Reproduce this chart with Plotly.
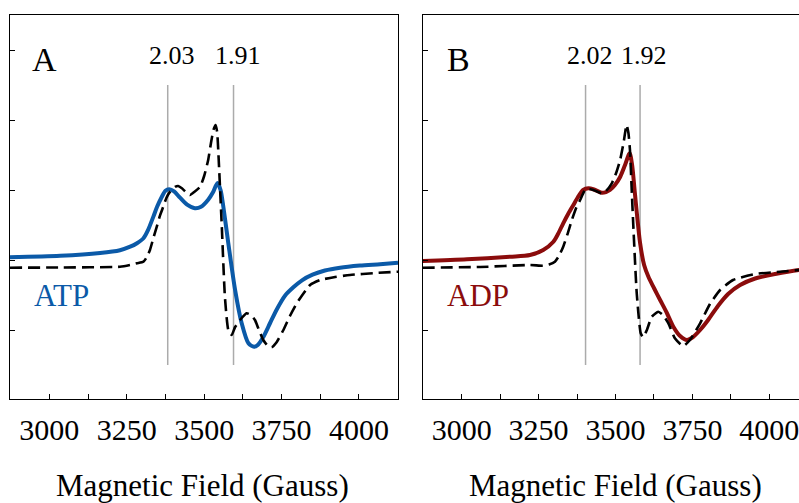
import plotly.graph_objects as go

# ---------------- data ----------------
# Panel A: ATP-bound sample (solid) and reference spectrum (dashed)
field_atp = [2873, 3035, 3164, 3228, 3261, 3283, 3304, 3319, 3336, 3348, 3363, 3375,
             3387, 3403, 3422, 3445, 3470, 3490, 3513, 3529, 3543, 3553, 3562, 3578,
             3600, 3621, 3643, 3661, 3674, 3691, 3713, 3734, 3761, 3788, 3816, 3850,
             3890, 3939, 4003, 4068, 4126]
signal_atp = [0.4, 0.6, 1.0, 1.4, 1.9, 2.4, 3.1, 4.3, 6.2, 7.6, 9.0, 9.9,
              10.1, 9.8, 8.9, 7.9, 7.4, 7.6, 8.6, 9.7, 11.0, 10.0, 7.6, 2.4,
              -4.3, -9.0, -11.9, -12.4, -12.1, -11.0, -9.0, -7.1, -5.1, -3.9, -2.9, -2.1,
              -1.5, -1.1, -0.8, -0.6, -0.4]

field_ref_a = [2873, 3035, 3228, 3261, 3283, 3304, 3315, 3325, 3336, 3347, 3357, 3368,
               3378, 3390, 3406, 3416, 3428, 3441, 3454, 3470, 3487, 3500, 3513, 3522,
               3530, 3537, 3542, 3546, 3557, 3567, 3578, 3589, 3600, 3616, 3637, 3651,
               3664, 3677, 3691, 3703, 3718, 3732, 3756, 3777, 3799, 3842, 3874, 3923,
               3971, 4052, 4126]
signal_ref_a = [-1.1, -1.07, -0.96, -0.71, -0.47, -0.24, 0.43, 1.43, 3.14, 4.76, 6.29, 7.61,
                8.86, 9.76, 10.43, 10.57, 10.24, 9.71, 9.29, 9.79, 10.47, 12.0, 14.29, 16.71,
                18.57, 19.29, 18.29, 15.24, 4.76, -5.24, -10.0, -10.71, -9.57, -8.57, -7.61, -7.86,
                -8.57, -10.0, -11.43, -12.14, -12.47, -11.86, -10.0, -8.0, -6.19, -3.57, -2.86, -2.43,
                -2.14, -1.86, -1.67]

# Panel B: ADP-bound sample (solid) and reference spectrum (dashed)
field_adp = [2873, 3017, 3157, 3222, 3265, 3298, 3313, 3330, 3346, 3363, 3378, 3395,
             3412, 3430, 3455, 3469, 3482, 3498, 3515, 3531, 3546, 3554, 3563, 3580,
             3593, 3607, 3625, 3645, 3667, 3688, 3710, 3732, 3752, 3775, 3801, 3833,
             3866, 3905, 3954, 4019, 4097, 4130]
signal_adp = [-0.14, 0.1, 0.47, 0.71, 1.43, 2.61, 3.71, 5.24, 6.57, 7.86, 9.0, 10.0,
              10.24, 10.07, 9.61, 9.71, 10.0, 10.71, 11.86, 13.57, 15.24, 13.57, 9.53, 2.39,
              -0.71, -2.39, -4.0, -5.71, -7.57, -9.53, -10.86, -11.43, -11.0, -10.0, -8.57, -6.57,
              -4.86, -3.57, -2.64, -2.0, -1.43, -1.3]

field_ref_b = [2873, 3060, 3222, 3265, 3284, 3303, 3316, 3330, 3344, 3358, 3372, 3385,
               3401, 3414, 3428, 3440, 3455, 3469, 3488, 3502, 3515, 3526, 3536, 3542,
               3547, 3552, 3558, 3569, 3582, 3590, 3602, 3618, 3639, 3654, 3672, 3693,
               3720, 3742, 3775, 3807, 3840, 3882, 3954, 4035, 4097, 4130]
signal_ref_b = [-1.1, -1.0, -0.71, -0.81, -0.64, -0.24, 0.57, 1.9, 3.71, 5.71, 7.43, 8.57,
                10.0, 10.14, 10.0, 9.79, 9.53, 9.86, 10.96, 12.43, 14.29, 16.71, 19.29, 18.14,
                15.71, 10.71, 4.76, -4.76, -10.47, -11.04, -10.0, -8.1, -7.39, -7.86, -9.04, -11.19,
                -12.29, -11.43, -9.04, -6.29, -4.29, -2.86, -2.0, -1.67, -1.43, -1.35]

# g-values marked on each panel and the microwave frequency of each measurement
g_values_a = [2.03, 1.91]
g_values_b = [2.02, 1.92]
mw_freq_ghz = [9.61, 9.62]

panel_letters = ["A", "B"]
sample_labels = ["ATP", "ADP"]
major_fields = [3000, 3250, 3500, 3750, 4000]
y_ticks = [-10, 0, 10, 20, 30]
x_title = "Magnetic Field (Gauss)"

# ---------------- styling ----------------
BLUE = "#0B5AA8"
RED = "#8B0C0C"
FONT = "Liberation Serif"
W, H = 799, 503
M_T, M_B = 15, 104


def g_to_field(g, freq_ghz):
    # resonance field in gauss: B = h*nu / (g * muB)
    return 714.48 * freq_ghz / g


fig = go.Figure()

fig.add_trace(go.Scatter(x=field_atp, y=signal_atp, mode="lines", xaxis="x", yaxis="y",
                         line=dict(color=BLUE, width=4, shape="spline", smoothing=0.75),
                         showlegend=False))
fig.add_trace(go.Scatter(x=field_ref_a, y=signal_ref_a, mode="lines", xaxis="x", yaxis="y",
                         line=dict(color="black", width=2.6, dash="12px,6px",
                                   shape="spline", smoothing=0.5),
                         showlegend=False))
fig.add_trace(go.Scatter(x=field_adp, y=signal_adp, mode="lines", xaxis="x2", yaxis="y2",
                         line=dict(color=RED, width=4, shape="spline", smoothing=0.75),
                         showlegend=False))
fig.add_trace(go.Scatter(x=field_ref_b, y=signal_ref_b, mode="lines", xaxis="x2", yaxis="y2",
                         line=dict(color="black", width=2.6, dash="12px,6px",
                                   shape="spline", smoothing=0.5),
                         showlegend=False))

fig.update_layout(
    width=W, height=H,
    margin=dict(l=0, r=0, t=M_T, b=M_B),
    paper_bgcolor="white", plot_bgcolor="white",
    font=dict(family=FONT, size=30, color="black"),
    xaxis=dict(domain=[10 / W, 398 / W], range=[2873, 4126], anchor="y"),
    yaxis=dict(domain=[0, 1], anchor="x", mirror=True),
    xaxis2=dict(domain=[422.7 / W, 1.0], range=[2873.2, 4096.5], anchor="y2"),
    yaxis2=dict(domain=[0, 1], anchor="x2", mirror=False),
)

# shared axis styling: black frame, short inside ticks, labelled every 250 G
fig.update_xaxes(showgrid=False, zeroline=False, showline=True, linecolor="black",
                 linewidth=1.3, mirror=True, ticks="inside", ticklen=5, tickcolor="black",
                 tickwidth=1, tickmode="array", tickvals=major_fields,
                 ticktext=[str(v) for v in major_fields], tickangle=0,
                 tickfont=dict(family=FONT, size=30, color="black"),
                 minor=dict(ticks="inside", ticklen=5, tickcolor="black", tickwidth=1,
                            dtick=125, tick0=3000, showgrid=False),
                 ticklabeloverflow="allow", ticklabelstandoff=4)
fig.update_yaxes(showgrid=False, zeroline=False, showline=True, linecolor="black",
                 linewidth=1.3, ticks="inside", ticklen=5, tickcolor="black", tickwidth=1,
                 tickmode="array", tickvals=y_ticks, showticklabels=False,
                 range=[(260 - 399) / 7, (260 - 15) / 7])

shapes = []
annotations = []
panels = [("x", "y", g_values_a, mw_freq_ghz[0]), ("x2", "y2", g_values_b, mw_freq_ghz[1])]
for (xr, yr, gvals, freq) in panels:
    for g in gvals:
        bf = g_to_field(g, freq)
        shapes.append(dict(type="line", xref=xr, yref=yr, x0=bf, x1=bf, y0=-15, y1=25,
                           line=dict(color="#ABABAB", width=1.5), layer="below"))
        annotations.append(dict(xref=xr, yref=yr, x=bf, y=29.2, xshift=4, text=f"{g:.2f}",
                                showarrow=False, xanchor="center", yanchor="middle",
                                font=dict(family=FONT, size=26, color="black")))

# panel letters, sample labels and axis titles
letter_pos = [(44, 59), (458, 59)]
label_pos = [(61, 295, BLUE), (478, 295, RED)]
title_x = [202, 615]
for i in range(2):
    lx, ly = letter_pos[i]
    annotations.append(dict(xref="paper", yref="paper", x=lx / W, y=(399 - ly) / 384,
                            text=panel_letters[i], showarrow=False, xanchor="center",
                            yanchor="middle", font=dict(family=FONT, size=34, color="black")))
    sx, sy, col = label_pos[i]
    annotations.append(dict(xref="paper", yref="paper", x=sx / W, y=(399 - sy) / 384,
                            text=sample_labels[i], showarrow=False, xanchor="center",
                            yanchor="middle", font=dict(family=FONT, size=31, color=col)))
    annotations.append(dict(xref="paper", yref="paper", x=title_x[i] / W, y=(399 - 485) / 384,
                            text=x_title, showarrow=False, xanchor="center",
                            yanchor="middle", font=dict(family=FONT, size=31, color="black")))

fig.update_layout(shapes=shapes, annotations=annotations)

fig.write_html("out.html")
